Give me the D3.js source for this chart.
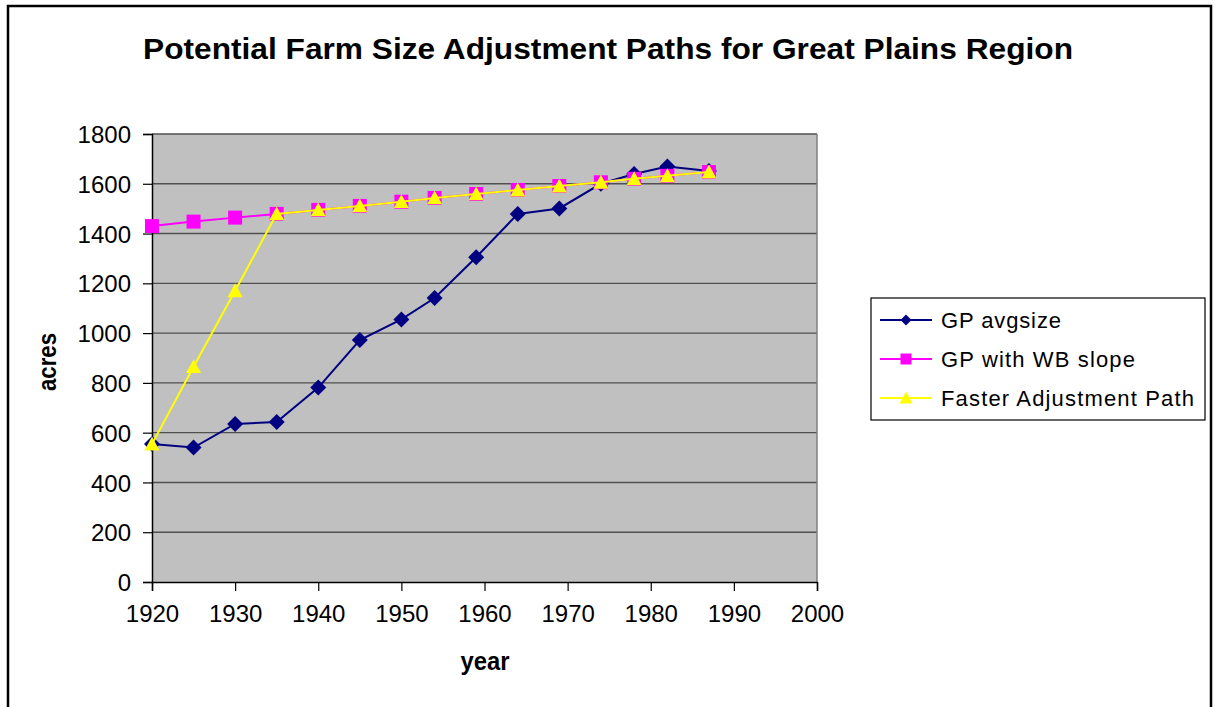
<!DOCTYPE html>
<html>
<head>
<meta charset="utf-8">
<script src="https://cdn.jsdelivr.net/npm/d3@7"></script>
<style>
  html, body { margin: 0; padding: 0; background: #fff; }
  svg { display: block; font-family: Arial, "Liberation Sans", sans-serif; }
</style>
</head>
<body>
<svg id="chart" width="1215" height="707"></svg>
<script>
// ---- Data ----
const years = [1920, 1925, 1930, 1935, 1940, 1945, 1950, 1954, 1959, 1964, 1969, 1974, 1978, 1982, 1987];
const gpAvgSize = [554, 540, 635, 643, 781, 972, 1055, 1141, 1305, 1479, 1501, 1600, 1639, 1669, 1651];
const gpWbSlope = [1430, 1448, 1464, 1479, 1495, 1511, 1528, 1543, 1559, 1575, 1591, 1606, 1620, 1632, 1647];
const fasterPath = [554, 865, 1170, 1479, 1495, 1511, 1528, 1543, 1559, 1575, 1591, 1606, 1620, 1632, 1647];
const seriesNames = ["GP avgsize", "GP with WB slope", "Faster Adjustment Path"];
const xTicks = [1920, 1930, 1940, 1950, 1960, 1970, 1980, 1990, 2000];
const yTicks = [0, 200, 400, 600, 800, 1000, 1200, 1400, 1600, 1800];
const titleText = "Potential Farm Size Adjustment Paths for Great Plains Region";
const xLabel = "year";
const yLabel = "acres";

const seriesList = [
  { name: seriesNames[0], values: gpAvgSize, color: "#000080", marker: "diamond" },
  { name: seriesNames[1], values: gpWbSlope, color: "#FF00FF", marker: "square" },
  { name: seriesNames[2], values: fasterPath, color: "#FFFF00", marker: "triangle" }
];

const svg = d3.select("#chart");

// outer chart border
svg.append("rect")
  .attr("x", 8).attr("y", 6).attr("width", 1203).attr("height", 720)
  .attr("fill", "#fff").attr("stroke", "#000").attr("stroke-width", 2.5);

const plot = { left: 152, right: 817, top: 134, bottom: 582 };
const x = d3.scaleLinear().domain([1920, 2000]).range([plot.left, plot.right]);
const y = d3.scaleLinear().domain([0, 1800]).range([plot.bottom, plot.top]);

// plot background
svg.append("rect")
  .attr("x", plot.left).attr("y", plot.top)
  .attr("width", plot.right - plot.left).attr("height", plot.bottom - plot.top)
  .attr("fill", "#C0C0C0");

// gridlines
svg.append("g").selectAll("line").data(yTicks.filter(d => d > 0)).join("line")
  .attr("x1", plot.left).attr("x2", plot.right)
  .attr("y1", d => y(d)).attr("y2", d => y(d))
  .attr("stroke", "#505050").attr("stroke-width", 1.4);

// right border of plot area
svg.append("line")
  .attr("x1", plot.right).attr("x2", plot.right)
  .attr("y1", plot.top).attr("y2", plot.bottom)
  .attr("stroke", "#808080").attr("stroke-width", 1.5);

// axes
const yAxis = d3.axisLeft(y).tickValues(yTicks).tickSize(9).tickPadding(12).tickFormat(d3.format("d"));
const xAxis = d3.axisBottom(x).tickValues(xTicks).tickSize(9).tickPadding(14).tickFormat(d3.format("d"));

const gy = svg.append("g").attr("transform", `translate(${plot.left},0)`).call(yAxis);
const gx = svg.append("g").attr("transform", `translate(0,${plot.bottom})`).call(xAxis);
[gx, gy].forEach(g => {
  g.select(".domain").attr("stroke", "#000").attr("stroke-width", 1.5);
  g.selectAll(".tick line").attr("stroke", "#000").attr("stroke-width", 1.2);
  g.selectAll(".tick text").attr("fill", "#000").style("font-size", "24px")
    .style("font-family", "Arial, 'Liberation Sans', sans-serif");
});
gy.selectAll(".tick text").attr("dy", "0.36em");
gx.selectAll(".tick text").attr("dy", "0.72em");

// markers
function markerPath(type, size) {
  const s = size / 2;
  if (type === "diamond") return `M0,${-s}L${s},0L0,${s}L${-s},0Z`;
  if (type === "square") return `M${-s},${-s}H${s}V${s}H${-s}Z`;
  // triangle
  return `M0,${-s}L${s},${s * 0.85}L${-s},${s * 0.85}Z`;
}
const markerSize = { diamond: 16, square: 14, triangle: 15 };

const line = d3.line().x((d, i) => x(years[i])).y(d => y(d));

seriesList.forEach(s => {
  const g = svg.append("g");
  g.append("path").datum(s.values)
    .attr("d", line).attr("fill", "none")
    .attr("stroke", s.color).attr("stroke-width", 2);
  g.selectAll("path.m").data(s.values).join("path").attr("class", "m")
    .attr("transform", (d, i) => `translate(${x(years[i])},${y(d)})`)
    .attr("d", markerPath(s.marker, markerSize[s.marker]))
    .attr("fill", s.color);
});

// title
svg.append("text")
  .attr("x", 608).attr("y", 59).attr("text-anchor", "middle")
  .attr("textLength", 930).attr("lengthAdjust", "spacingAndGlyphs")
  .style("font-size", "30px").style("font-weight", "bold")
  .text(titleText);

// axis titles
svg.append("text")
  .attr("x", 485).attr("y", 670).attr("text-anchor", "middle")
  .attr("textLength", 49).attr("lengthAdjust", "spacingAndGlyphs")
  .style("font-size", "25px").style("font-weight", "bold")
  .text(xLabel);

svg.append("text")
  .attr("transform", "translate(56,362) rotate(-90)")
  .attr("text-anchor", "middle")
  .attr("textLength", 58).attr("lengthAdjust", "spacingAndGlyphs")
  .style("font-size", "26px").style("font-weight", "bold")
  .text(yLabel);

// legend
const leg = svg.append("g");
leg.append("rect")
  .attr("x", 871).attr("y", 298).attr("width", 334).attr("height", 122)
  .attr("fill", "#fff").attr("stroke", "#000").attr("stroke-width", 1.2);
const legRowY = [320, 359, 398];
const legLens = [120, 194, 253];
seriesList.forEach((s, i) => {
  const gy0 = legRowY[i];
  leg.append("line").attr("x1", 880).attr("x2", 932).attr("y1", gy0).attr("y2", gy0)
    .attr("stroke", s.color).attr("stroke-width", 2);
  leg.append("path").attr("transform", `translate(906,${gy0})`)
    .attr("d", markerPath(s.marker, s.marker === "triangle" ? 13 : 11))
    .attr("fill", s.color);
  leg.append("text").attr("x", 941).attr("y", gy0).attr("dy", "0.36em")
    .attr("textLength", legLens[i]).attr("lengthAdjust", "spacing")
    .style("font-size", "22px")
    .text(s.name);
});
</script>
</body>
</html>
